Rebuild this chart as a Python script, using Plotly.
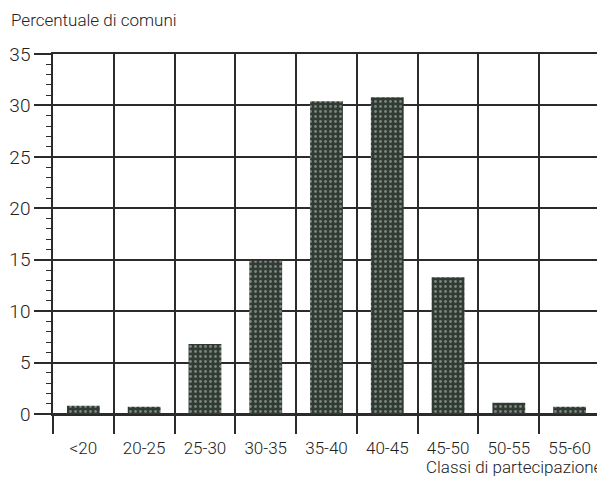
import plotly.graph_objects as go

classi = ["<20", "20-25", "25-30", "30-35", "35-40", "40-45", "45-50", "50-55", "55-60"]
percentuale = [0.8, 0.7, 6.8, 14.9, 30.4, 30.8, 13.3, 1.1, 0.7]

FONT = "Roboto, sans-serif"
LINE = "#2b2b2b"

fig = go.Figure()
fig.add_trace(go.Bar(
    x=classi,
    y=percentuale,
    width=0.54,
    marker=dict(
        color="#2f3b33",
        line=dict(width=0),
        pattern=dict(shape=".", fgcolor="#c9d0c9", size=5, solidity=0.25, fillmode="overlay"),
    ),
    showlegend=False,
))

# the page has an 8px body margin, so the figure is a bit smaller than the window
fig.update_layout(
    width=597, height=469,
    margin=dict(l=45, r=5, t=46, b=63),
    paper_bgcolor="white", plot_bgcolor="white",
    font=dict(family=FONT, size=17, color="#222", weight=300),
    bargap=0.46,
)
fig.update_xaxes(
    type="category", automargin=False,
    tickson="boundaries",
    ticks="outside", ticklen=18, tickwidth=1.5, tickcolor=LINE,
    showgrid=True, gridcolor=LINE, gridwidth=1.5,
    showline=True, linecolor=LINE, linewidth=1.5, mirror=True,
    ticklabelstandoff=18,
    tickfont=dict(size=17, weight=300),
)
fig.update_yaxes(
    range=[0, 35], dtick=5, automargin=False,
    ticks="outside", ticklen=17, tickwidth=1.5, tickcolor=LINE,
    showgrid=True, gridcolor=LINE, gridwidth=1.5,
    zeroline=True, zerolinecolor=LINE, zerolinewidth=1.5,
    showline=True, linecolor=LINE, linewidth=1.5, mirror=True,
    minor=dict(dtick=1, ticks="outside", ticklen=5, tickwidth=1.2, tickcolor=LINE, showgrid=False),
    tickfont=dict(size=19, weight=300),
)

fig.add_annotation(text="Percentuale di comuni", xref="paper", yref="paper",
                   x=0, y=1, yshift=34, xshift=-45 + 1, xanchor="left", yanchor="middle",
                   showarrow=False, font=dict(size=17, weight=300))
fig.add_annotation(text="Classi di partecipazione", xref="paper", yref="paper",
                   x=1, y=0, yshift=-53, xshift=5, xanchor="right", yanchor="middle",
                   showarrow=False, font=dict(size=17, weight=300))

fig.write_html("out.html")
